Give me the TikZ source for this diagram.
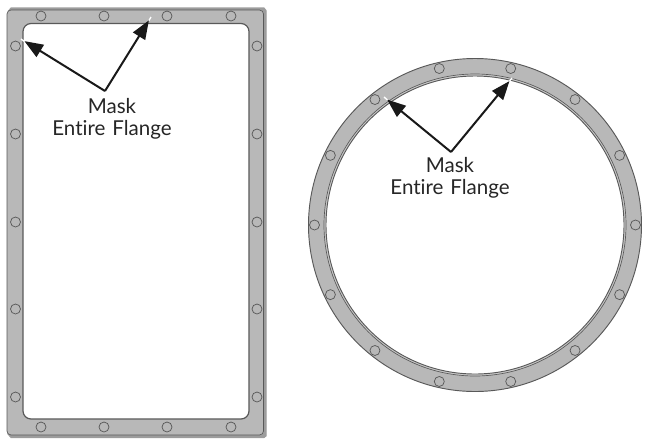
\documentclass[tikz,border=0pt]{standalone}
\usepackage{fontspec}
\setmainfont[Ligatures=NoCommon]{Lato}
\usetikzlibrary{arrows.meta,calc}
\definecolor{flange}{gray}{0.72}
\definecolor{edge}{gray}{0.35}
\tikzset{
 x=0.75pt,y=-0.75pt,
 bolt/.style={draw=edge,line width=0.55pt,fill=flange},
 lbl/.style={align=center,font=\fontsize{15.4}{16.8}\selectfont,text=black!85,inner sep=0pt,text width=130pt},
 pointer/.style={draw=black!90,line width=1.5pt,-{Triangle[length=14pt,width=10.5pt]},shorten >=3pt},
 glint/.style={draw=white,line width=1pt}
}
\begin{document}
\begin{tikzpicture}
\useasboundingbox (0,0) rectangle (647,444);
% rectangular flange
\draw[edge!60,line width=0.8pt,fill=flange!85!black] (8.5,11) -- (11,8) -- (264,8) -- (266,10.5) -- (266,436) -- (264,437.5) -- (11,437.5) -- (8,434) -- cycle;
\draw[edge,line width=0.5pt,rounded corners=3pt,fill=flange] (7,10) rectangle (263.5,435);
\draw[edge,line width=0.9pt,rounded corners=6pt,fill=white] (23,23.5) rectangle (249,419);
\foreach \p in {41,104,167,231}{
 \draw[bolt] (\p,16) circle (5);
 \draw[bolt] (\p,427) circle (5);
}
\foreach \p in {46,134,222,309,397}{
 \draw[bolt] (15.5,\p) circle (5);
 \draw[bolt] (257,\p) circle (5);
}
% circular flange
\coordinate (c) at (475,225);
\draw[edge,line width=0.7pt,fill=flange] (c) circle (166.5);
\draw[edge,line width=0.5pt,fill=flange!75] (c) circle (151);
\draw[edge,line width=0.7pt,fill=white] (c) circle (149);
\foreach \a in {0,1,...,13}{
 \draw[bolt] ($(c)+({90+12.857+\a*25.714}:160.5)$) circle (5);
}
% labels
\node[lbl] (m1) at (112,119) {Mask\\Entire Flange};
\node[lbl] (m2) at (450,178) {Mask\\Entire Flange};
% pointers
\coordinate (a1) at (105,91);
\coordinate (t1) at (21,39);
\coordinate (t2) at (151,17);
\coordinate (a2) at (451,152);
\coordinate (t3) at (384,97);
\coordinate (t4) at (512,78);
\draw[pointer] (a1) -- (t1);
\draw[pointer] (a1) -- (t2);
\draw[pointer] (a2) -- (t3);
\draw[pointer] (a2) -- (t4);
\draw[glint] (t1) -- ++(3.5,2.5);
\draw[glint] (t2) -- ++(-2,3.5);
\draw[glint] (t3) -- ++(3.5,3);
\draw[glint] (t4) -- ++(-2.5,3);
\end{tikzpicture}
\end{document}
